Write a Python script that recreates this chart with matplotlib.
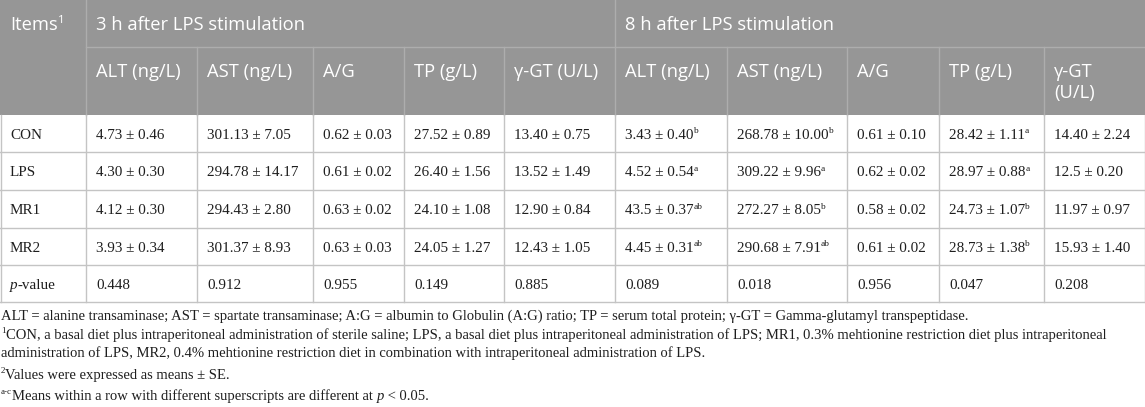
import matplotlib
matplotlib.use("Agg")
import matplotlib.pyplot as plt
from matplotlib.patches import Rectangle

# ---------------- data ----------------
groups = ["CON", "LPS", "MR1", "MR2"]
period_titles = ["3 h after LPS stimulation", "8 h after LPS stimulation"]
cols_3h = [["ALT (ng/L)"], ["AST (ng/L)"], ["A/G"], ["TP (g/L)"], ["γ-GT (U/L)"]]
cols_8h = [["ALT (ng/L)"], ["AST (ng/L)"], ["A/G"], ["TP (g/L)"], ["γ-GT", "(U/L)"]]

vals_3h = [
    ["4.73 ± 0.46", "301.13 ± 7.05", "0.62 ± 0.03", "27.52 ± 0.89", "13.40 ± 0.75"],
    ["4.30 ± 0.30", "294.78 ± 14.17", "0.61 ± 0.02", "26.40 ± 1.56", "13.52 ± 1.49"],
    ["4.12 ± 0.30", "294.43 ± 2.80", "0.63 ± 0.02", "24.10 ± 1.08", "12.90 ± 0.84"],
    ["3.93 ± 0.34", "301.37 ± 8.93", "0.63 ± 0.03", "24.05 ± 1.27", "12.43 ± 1.05"],
]
vals_8h = [
    ["3.43 ± 0.40", "268.78 ± 10.00", "0.61 ± 0.10", "28.42 ± 1.11", "14.40 ± 2.24"],
    ["4.52 ± 0.54", "309.22 ± 9.96", "0.62 ± 0.02", "28.97 ± 0.88", "12.5 ± 0.20"],
    ["43.5 ± 0.37", "272.27 ± 8.05", "0.58 ± 0.02", "24.73 ± 1.07", "11.97 ± 0.97"],
    ["4.45 ± 0.31", "290.68 ± 7.91", "0.61 ± 0.02", "28.73 ± 1.38", "15.93 ± 1.40"],
]
sups_8h = [
    ["b", "b", "", "a", ""],
    ["a", "a", "", "a", ""],
    ["ab", "b", "", "b", ""],
    ["ab", "ab", "", "b", ""],
]
pvals_3h = ["0.448", "0.912", "0.955", "0.149", "0.885"]
pvals_8h = ["0.089", "0.018", "0.956", "0.047", "0.208"]

foot1 = ("ALT = alanine transaminase; AST = spartate transaminase; A:G = albumin to Globulin (A:G) ratio; "
         "TP = serum total protein; γ-GT = Gamma-glutamyl transpeptidase.")
foot2 = ("CON, a basal diet plus intraperitoneal administration of sterile saline; LPS, a basal diet plus "
         "intraperitoneal administration of LPS; MR1, 0.3% mehtionine restriction diet plus intraperitoneal")
foot3 = ("administration of LPS, MR2, 0.4% mehtionine restriction diet in combination with intraperitoneal "
         "administration of LPS.")
foot4 = "Values were expressed as means ± SE."
foot5a = "Means within a row with different superscripts are different at "
foot5b = " < 0.05."

# ---------------- layout ----------------
W, H = 1145, 407
xdiv = [0, 86, 197, 313, 404, 504, 615, 727, 847, 939, 1044, 1145]
y_h1, y_h2 = 47, 115
row_lines = [115, 152, 190, 228, 265, 302]
HEAD_BG = "#969696"
HEAD_LINE = "#adadad"
GRID = "#c4c4c4"
TXT = "#1e1e1e"
SANS = "Open Sans"
SERIF = "Liberation Serif"
HS, DS, FS = 13.2, 10.9, 10.5
PAD = 10

fig = plt.figure(figsize=(W / 100, H / 100), dpi=100)
ax = fig.add_axes([0, 0, 1, 1])
ax.set_xlim(0, W)
ax.set_ylim(H, 0)
ax.axis("off")
renderer = fig.canvas.get_renderer()


def runs(x, y, parts, size, family, color):
    """Draw a sequence of (text, kind) parts on baseline y; kind: '', 'sup', 'it'."""
    cx = x
    for txt, kind in parts:
        kw = dict(family=family, color=color, va="baseline", ha="left")
        if kind == "sup":
            t = ax.text(cx, y - size * 100 / 72 * 0.38, txt, fontsize=size * 0.62, **kw)
        elif kind == "it":
            t = ax.text(cx, y, txt, fontsize=size, style="italic", **kw)
        else:
            t = ax.text(cx, y, txt, fontsize=size, **kw)
        bb = t.get_window_extent(renderer)
        cx += bb.width
    return cx


# header background
ax.add_patch(Rectangle((0, 0), W, y_h2, facecolor=HEAD_BG, edgecolor="none"))
# header lines
ax.plot([xdiv[1], W], [y_h1, y_h1], color=HEAD_LINE, lw=1)
ax.plot([xdiv[1], xdiv[1]], [0, y_h2], color=HEAD_LINE, lw=1)
ax.plot([xdiv[6], xdiv[6]], [0, y_h2], color=HEAD_LINE, lw=1)
for xv in xdiv[2:6] + xdiv[7:11]:
    ax.plot([xv, xv], [y_h1, y_h2], color=HEAD_LINE, lw=1)

# header text
hb1 = 30
runs(PAD, hb1, [("Items", ""), ("1", "sup")], HS, SANS, "white")
ax.text(xdiv[1] + PAD, hb1, period_titles[0], fontsize=HS, family=SANS, color="white", va="baseline")
ax.text(xdiv[6] + PAD, hb1, period_titles[1], fontsize=HS, family=SANS, color="white", va="baseline")
hb2 = 77
for j, lines in enumerate(cols_3h + cols_8h):
    xc = xdiv[1 + j] + PAD
    for k, ln in enumerate(lines):
        ax.text(xc, hb2 + k * 21, ln, fontsize=HS, family=SANS, color="white", va="baseline")

# data grid
for yv in row_lines[1:]:
    ax.plot([0, W], [yv, yv], color=GRID, lw=1)
for xv in xdiv[1:-1]:
    ax.plot([xv, xv], [y_h2, row_lines[-1]], color=GRID, lw=1)
ax.plot([0.5, 0.5], [y_h2, row_lines[-1]], color=GRID, lw=1)
ax.plot([W - 0.5, W - 0.5], [y_h2, row_lines[-1]], color=GRID, lw=1)

# data text
for i, g in enumerate(groups):
    yb = (row_lines[i] + row_lines[i + 1]) / 2 + 5.5
    ax.text(PAD, yb, g, fontsize=DS, family=SERIF, color=TXT, va="baseline")
    for j in range(5):
        ax.text(xdiv[1 + j] + PAD, yb, vals_3h[i][j], fontsize=DS, family=SERIF, color=TXT, va="baseline")
        parts = [(vals_8h[i][j], "")]
        if sups_8h[i][j]:
            parts.append((sups_8h[i][j], "sup"))
        runs(xdiv[6 + j] + PAD, yb, parts, DS, SERIF, TXT)

yb = (row_lines[4] + row_lines[5]) / 2 + 5.5
runs(PAD, yb, [("p", "it"), ("-value", "")], DS, SERIF, TXT)
for j in range(5):
    ax.text(xdiv[1 + j] + PAD, yb, pvals_3h[j], fontsize=DS, family=SERIF, color=TXT, va="baseline")
    ax.text(xdiv[6 + j] + PAD, yb, pvals_8h[j], fontsize=DS, family=SERIF, color=TXT, va="baseline")

# footnotes
fx = 1
runs(fx, 320, [(foot1, "")], FS, SERIF, TXT)
runs(fx, 339, [("1", "sup"), (foot2, "")], FS, SERIF, TXT)
runs(fx, 357, [(foot3, "")], FS, SERIF, TXT)
runs(fx, 379, [("2", "sup"), (foot4, "")], FS, SERIF, TXT)
runs(fx, 400, [("a-c", "sup"), (foot5a, ""), ("p", "it"), (foot5b, "")], FS, SERIF, TXT)

fig.savefig("out.png", dpi=100)
